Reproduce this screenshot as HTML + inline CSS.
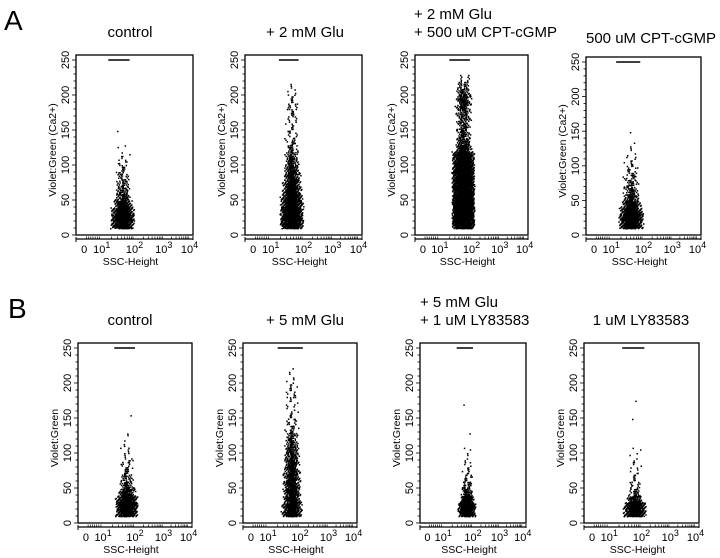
<!DOCTYPE html>
<html><head><meta charset="utf-8">
<style>
html,body{margin:0;padding:0;background:#fff;}
svg{display:block;font-family:"Liberation Sans",Arial,sans-serif;}
</style></head>
<body>
<svg id="fig" width="720" height="558" viewBox="0 0 720 558" xmlns="http://www.w3.org/2000/svg">
<text x="4" y="30" font-size="28">A</text>
<text x="8" y="318" font-size="28">B</text>
</svg>
<script>
// ---- data ----
const panelTitles = [
  ["control"], ["+ 2 mM Glu"], ["+ 2 mM Glu","+ 500 uM CPT-cGMP"], ["500 uM CPT-cGMP"],
  ["control"], ["+ 5 mM Glu"], ["+ 5 mM Glu","+ 1 uM LY83583"], ["1 uM LY83583"]
];
const yAxisTitles = ["Violet:Green (Ca2+)","Violet:Green (Ca2+)","Violet:Green (Ca2+)","Violet:Green (Ca2+)",
  "Violet:Green","Violet:Green","Violet:Green","Violet:Green"];
const yTickLabels = [0,50,100,150,200,250];
const xTickDecades = [0,1,2,3,4];
const xTickFrac = [0.07,0.22,0.50,0.75,0.97];
const binStart = 10, binSize = 10;
// counts of events per Violet:Green bin (10-20, 20-30, ...)
const countsA1 = [260,380,220,110,55,35,25,18,12,8,5,2,0,1];
const countsA2 = [300,400,320,240,180,130,100,75,60,45,32,20,14,10,8,8,10,12,8,5,3];
const countsA3 = [420,520,520,500,480,450,420,400,380,350,280,90,50,40,35,35,40,55,60,40,22,8];
const countsA4 = [250,330,200,110,60,38,25,18,12,8,5,3,1,1];
const countsB1 = [240,330,190,80,40,25,16,10,6,5,3,2,0,0,1];
const countsB2 = [180,160,110,100,95,88,76,65,55,48,38,28,16,12,8,6,5,9,8,4,2,1];
const countsB3 = [220,260,110,40,20,12,8,5,3,2,0,1,0,0,0,1];
const countsB4 = [230,250,70,22,12,8,6,5,3,2,0,0,0,1,0,0,1];
const panelCounts = [countsA1,countsA2,countsA3,countsA4,countsB1,countsB2,countsB3,countsB4];
// SSC cluster range (log10 decades)
const sscLow  = [1.3,1.3,1.4,1.25,1.4,1.4,1.5,1.45];
const sscHigh = [1.95,1.95,2.05,1.95,2.05,2.05,2.05,2.1];
// saturated events at 250 (SSC decade range)
const satLow  = [1.2,1.25,1.3,1.15,1.35,1.3,1.45,1.4];
const satHigh = [1.85,1.85,1.95,1.9,2.0,2.1,2.0,2.1];

// ---- layout ----
const NS="http://www.w3.org/2000/svg";
const svg=document.getElementById('fig');
const lefts=[76,245,415,586,78,243,420,584];
const widths=[117,117,113,115,114,114,106,115];
const tops=[55,55,55,57,343,343,343,343];
const bottoms=[235,235,235,235,523,523,523,523];
const titleX=[130,305,414,586,130,305,420,641];
const titleY=[[37],[37],[19,37],[43],[325],[325],[307,325],[325]];
const titleAnchor=["middle","middle","start","start","middle","middle","start","middle"];

function mk(tag,attrs,parent){const e=document.createElementNS(NS,tag);for(const k in attrs)e.setAttribute(k,attrs[k]);(parent||svg).appendChild(e);return e;}
function xFrac(d){
  for(let i=0;i<xTickDecades.length-1;i++){
    if(d<=xTickDecades[i+1]){const t=(d-xTickDecades[i])/(xTickDecades[i+1]-xTickDecades[i]);return xTickFrac[i]+t*(xTickFrac[i+1]-xTickFrac[i]);}
  }return xTickFrac[xTickFrac.length-1];
}
function frac(v){return v-Math.floor(v);}

for(let p=0;p<8;p++){
  const L=lefts[p],W=widths[p],T=tops[p],B=bottoms[p];
  const yTop=T+5;
  const ys=v=>B-(v/250)*(B-yTop);
  const xs=d=>L+xFrac(d)*W;
  const g=mk('g',{});
  
  
  panelTitles[p].forEach((t,i)=>{
    const tx=mk('text',{x:titleX[p],y:titleY[p][i],'font-size':15,'text-anchor':titleAnchor[p]},g);
    tx.textContent=t;
    
    
  });
  const fr=mk('rect',{x:L,y:T,width:W,height:B-T,fill:'none',stroke:'#000','stroke-width':1.3},g);
  
  
  for(let v=0;v<=250;v+=10){
    const major=v%50===0;
    mk('line',{x1:L-(major?4:2.5),x2:L,y1:ys(v),y2:ys(v),stroke:'#000','stroke-width':0.8},g);
  }
  yTickLabels.forEach(v=>{
    const t=mk('text',{x:0,y:0,'font-size':11,'text-anchor':'middle',transform:`translate(${L-7},${ys(v)}) rotate(-90)`},g);
    t.textContent=v;
    
    
  });
  const yt=mk('text',{x:0,y:0,'font-size':10.5,'text-anchor':'middle',transform:`translate(${L-20},${(T+B)/2+5}) rotate(-90)`},g);
  yt.textContent=yAxisTitles[p];
  
  
  const ax=B+4;
  mk('line',{x1:L,x2:L+W,y1:ax,y2:ax,stroke:'#000','stroke-width':1.2},g);
  mk('line',{x1:L,x2:L,y1:ax-2,y2:ax+3,stroke:'#000','stroke-width':1},g);
  mk('line',{x1:L+W,x2:L+W,y1:ax-3,y2:ax+1,stroke:'#000','stroke-width':1},g);
  for(let d=1;d<4;d++){for(let m=2;m<10;m++){const x=xs(d+Math.log10(m));mk('line',{x1:x,x2:x,y1:ax-2.5,y2:ax,stroke:'#000','stroke-width':0.7},g);}}
  for(let k=1;k<8;k++){const x=xs(k/8);mk('line',{x1:x,x2:x,y1:ax-2.5,y2:ax,stroke:'#000','stroke-width':0.7},g);}
  xTickDecades.forEach((d,i)=>{
    const x=L+xTickFrac[i]*W;
    const t=mk('text',{x:x,y:ax+14,'font-size':11,'text-anchor':'middle'},g);
    
    
    if(d===0){t.textContent='0';}
    else{t.textContent='10';const s=mk('tspan',{dy:-5,'font-size':9},t);s.textContent=d;}
  });
  const xt=mk('text',{x:L+W/2-4,y:ax+26,'font-size':10.5,'text-anchor':'middle'},g);
  xt.textContent='SSC-Height';
  
  
  const sl=mk('line',{x1:xs(satLow[p]),x2:xs(satHigh[p]),y1:ys(250),y2:ys(250),stroke:'#000','stroke-width':1.4},g);
  
  
  const counts=panelCounts[p];
  let path='';
  const lo=sscLow[p],hi=sscHigh[p],mid=(lo+hi)/2;
  counts.forEach((c,i)=>{
    const v0=binStart+i*binSize;
    const spread=Math.min(1,0.6+c/500);
    for(let k=0;k<c;k++){
      const a=frac(k*0.6180339+i*0.311+p*0.07);
      const b=frac(k*0.4142136+i*0.173+p*0.13);
      const u=(a+b)/2;
      const d=mid+(u-0.5)*(hi-lo)*1.15*spread;
      const v=v0+frac(k*0.7548776+i*0.53)*binSize;
      const x=xs(d),y=ys(v);
      path+=`M${x.toFixed(1)} ${y.toFixed(1)}h1.5v1.5h-1.5z`;
    }
  });
  const dots=mk('path',{d:path,fill:'#000'},g);
  
  
}
</script>
</body></html>
